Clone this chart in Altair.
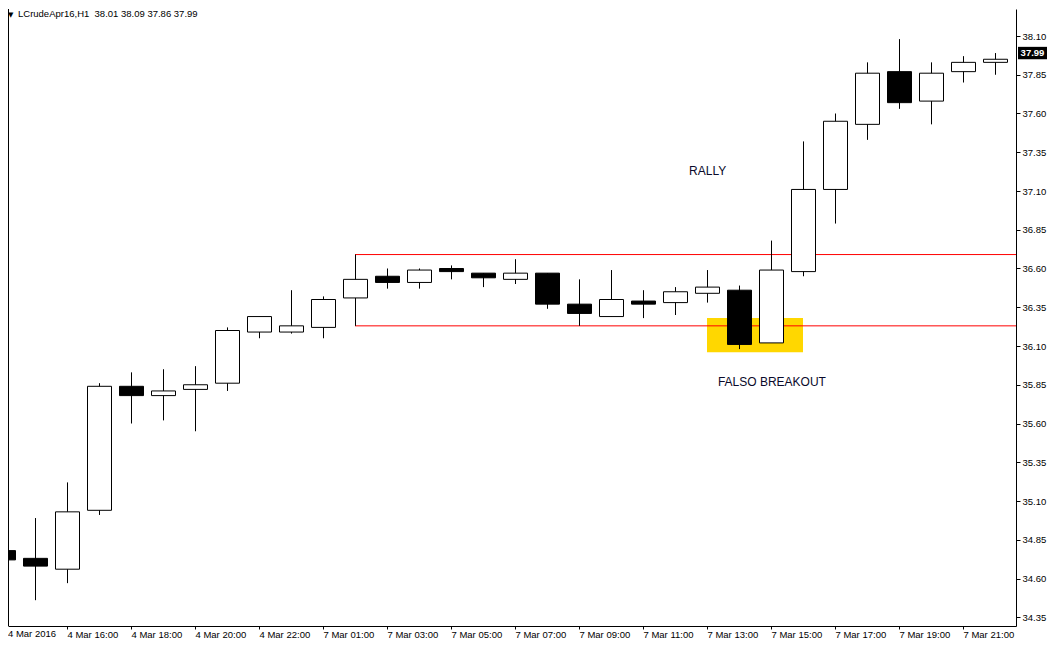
import json
import pandas as pd
import altair as alt

# ---------------- data ----------------
bar_index = list(range(32))
opens  = [34.78, 34.73, 34.66, 35.04, 35.84, 35.78, 35.82, 35.86, 36.19, 36.19, 36.22, 36.41,
          36.55, 36.51, 36.60, 36.57, 36.53, 36.57, 36.37, 36.29, 36.39, 36.38, 36.44, 36.46,
          36.12, 36.58, 37.11, 37.53, 37.87, 37.68, 37.87, 37.93]
highs  = [35.13, 34.99, 35.22, 35.86, 35.93, 35.95, 35.97, 36.22, 36.29, 36.46, 36.42, 36.69,
          36.60, 36.60, 36.62, 36.57, 36.66, 36.57, 36.53, 36.59, 36.46, 36.48, 36.59, 36.49,
          36.78, 37.42, 37.60, 37.93, 38.08, 37.93, 37.97, 37.99]
lows   = [34.65, 34.46, 34.57, 35.01, 35.60, 35.62, 35.55, 35.81, 36.15, 36.18, 36.15, 36.23,
          36.47, 36.47, 36.53, 36.48, 36.50, 36.34, 36.23, 36.29, 36.28, 36.30, 36.38, 36.08,
          36.12, 36.55, 36.89, 37.43, 37.63, 37.53, 37.80, 37.85]
closes = [34.72, 34.68, 35.03, 35.84, 35.78, 35.81, 35.85, 36.20, 36.29, 36.23, 36.40, 36.53,
          36.51, 36.59, 36.58, 36.54, 36.57, 36.37, 36.31, 36.40, 36.37, 36.45, 36.48, 36.11,
          36.59, 37.11, 37.55, 37.86, 37.67, 37.86, 37.93, 37.95]

x_labels = ["4 Mar 2016", "4 Mar 16:00", "4 Mar 18:00", "4 Mar 20:00", "4 Mar 22:00",
            "7 Mar 01:00", "7 Mar 03:00", "7 Mar 05:00", "7 Mar 07:00", "7 Mar 09:00",
            "7 Mar 11:00", "7 Mar 13:00", "7 Mar 15:00", "7 Mar 17:00", "7 Mar 19:00",
            "7 Mar 21:00"]
y_ticks = [34.35, 34.60, 34.85, 35.10, 35.35, 35.60, 35.85, 36.10, 36.35, 36.60,
           36.85, 37.10, 37.35, 37.60, 37.85, 38.10]

range_bar = 11
range_high = 36.69
range_low = 36.23
zone_x = [22, 25]
zone_y = [36.28, 36.06]
last_price = 37.99
title_text = "LCrudeApr16,H1\u00a0 38.01 38.09 37.86 37.99"

# ---------------- layout ----------------
W, H = 1008, 617
X0, X1 = 5 / 32, 1013 / 32
Y0, Y1 = 38.10 - 590 / 155, 38.10 + 27 / 155
FONT = "Liberation Sans"

df = pd.DataFrame({"i": bar_index, "o": opens, "h": highs, "l": lows, "c": closes})
df["fill"] = ["black" if c < o else "white" for o, c in zip(opens, closes)]

xsc = alt.Scale(domain=[X0, X1], nice=False, zero=False)
ysc = alt.Scale(domain=[Y0, Y1], nice=False, zero=False)
label_expr = json.dumps(x_labels) + "[round(datum.value/2)]"
xax = alt.Axis(values=list(range(2, 31, 2)), labelExpr=label_expr, labelAlign="left",
               labelPadding=0, tickSize=3, tickColor="black", domainColor="black",
               labelColor="black", labelFont=FONT, labelFontSize=9.5, title=None,
               grid=False, labelOverlap=False, labelBound=False, labelFlush=False)
yax = alt.Axis(orient="right", values=y_ticks, format=".2f", labelAlign="left",
               labelPadding=2, tickSize=4, tickColor="black", domainColor="black",
               labelColor="black", labelFont=FONT, labelFontSize=9.5, title=None,
               grid=False, labelOverlap=False, labelBaseline="middle")

def X(f):
    return alt.X(f, type="quantitative", scale=xsc, axis=xax)

def Y(f):
    return alt.Y(f, type="quantitative", scale=ysc, axis=yax)

base = alt.Chart(df)

zone = alt.Chart(pd.DataFrame({"x": [zone_x[0]], "x2": [zone_x[1]],
                               "y": [zone_y[0]], "y2": [zone_y[1]]})).mark_rect(
    color="#FFD700", clip=True).encode(x=X("x"), x2="x2", y=Y("y"), y2="y2")

levels = alt.Chart(pd.DataFrame({"x": [range_bar, range_bar], "x2": [X1, X1],
                                 "y": [range_high, range_low]})).mark_rule(
    color="#FF0000", strokeWidth=1, clip=True).encode(x=X("x"), x2="x2", y=Y("y"))

wicks = base.mark_rule(color="black", strokeWidth=1, clip=True, xOffset=0.5).encode(
    x=X("i"), y=Y("l"), y2="h")

bodies = base.transform_calculate(
    xa="datum.i - 0.375", xb="datum.i + 0.375"
).mark_rect(stroke="black", strokeWidth=1, clip=True, xOffset=0.5, x2Offset=0.5).encode(
    x=X("xa"), x2="xb", y=Y("o"), y2="c",
    fill=alt.Fill("fill:N", scale=None))

notes = alt.Chart(pd.DataFrame({"x": [21.44, 22.34], "y": [37.23, 35.87],
                                "t": ["RALLY", "FALSO BREAKOUT"]})).mark_text(
    align="left", baseline="middle", font=FONT, fontSize=12, color="#0a0a2a").encode(
    x=X("x"), y=Y("y"), text="t:N")

frame = alt.Chart(pd.DataFrame({"a": [0]})).mark_rule(color="black", strokeWidth=1).encode(
    x=alt.value(0.5), y=alt.value(0), y2=alt.value(H))

tri = alt.Chart(pd.DataFrame({"t": ["\u25BC"]})).mark_text(
    align="left", baseline="top", font="DejaVu Sans", fontSize=7, color="black").encode(
    x=alt.value(0), y=alt.value(2), text="t:N")

title = alt.Chart(pd.DataFrame({"t": [title_text]})).mark_text(
    align="left", baseline="top", font=FONT, fontSize=9.5, color="black").encode(
    x=alt.value(10), y=alt.value(0), text="t:N")

first_label = alt.Chart(pd.DataFrame({"t": [x_labels[0]]})).mark_text(
    align="left", baseline="top", font=FONT, fontSize=9.5, color="black").encode(
    x=alt.value(0), y=alt.value(H + 3), text="t:N")

pbox = alt.Chart(pd.DataFrame({"y": [last_price + 0.04], "y2": [last_price - 0.04]})).mark_rect(
    color="black").encode(x=alt.value(W + 2), x2=alt.value(W + 31), y=Y("y"), y2="y2")

ptext = alt.Chart(pd.DataFrame({"y": [last_price], "t": [f"{last_price:.2f}"]})).mark_text(
    align="center", baseline="middle", font=FONT, fontSize=9.5, color="white",
    fontWeight="bold").encode(x=alt.value(W + 16.5), y=Y("y"), text="t:N")

chart = alt.layer(zone, levels, wicks, bodies, notes, frame, tri, title, first_label,
                  pbox, ptext).properties(
    width=W, height=H, padding=0, background="white"
).configure_view(strokeWidth=0)

chart.save("out.html", embed_options={"renderer": "svg", "actions": False})
